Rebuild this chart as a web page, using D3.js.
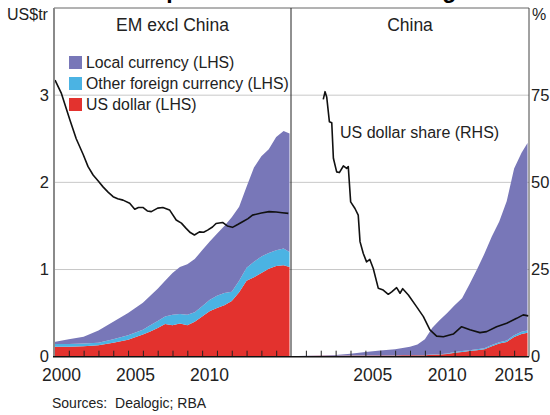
<!DOCTYPE html>
<html>
<head>
<meta charset=utf-8>
<title>Corporate Bonds Outstanding</title>
<style>
  body { margin: 0; background: #fff; }
  svg { display: block; font-family: "Liberation Sans", Arial, sans-serif; }
</style>
</head>
<body>
<script src="https://d3js.org/d3.v7.min.js"></script>
<script>
// EM excl China, US$tr
var emYears = [2000.0, 2001, 2002, 2003, 2004, 2005, 2006, 2006.5, 2007, 2007.5, 2008, 2008.5, 2009, 2009.5,
               2010, 2010.5, 2011, 2011.5, 2012, 2012.5, 2013, 2013.5, 2014, 2014.5, 2015, 2015.5, 2015.9];
var emUsd   = [0.115, 0.115, 0.12, 0.13, 0.16, 0.195, 0.255, 0.29, 0.33, 0.375, 0.36, 0.38, 0.36, 0.40,
               0.46, 0.52, 0.56, 0.59, 0.64, 0.74, 0.87, 0.91, 0.96, 1.01, 1.04, 1.05, 1.03];
var emOther = [0.03, 0.03, 0.03, 0.03, 0.04, 0.05, 0.055, 0.07, 0.08, 0.085, 0.12, 0.11, 0.12, 0.11,
               0.12, 0.13, 0.14, 0.14, 0.105, 0.13, 0.15, 0.18, 0.19, 0.18, 0.18, 0.19, 0.17];
var emLocal = [0.025, 0.055, 0.08, 0.14, 0.20, 0.255, 0.31, 0.34, 0.37, 0.41, 0.48, 0.54, 0.58, 0.61,
               0.64, 0.67, 0.71, 0.77, 0.855, 0.85, 0.93, 1.08, 1.15, 1.19, 1.30, 1.35, 1.36];

// EM excl China, US dollar share (%)
var emShareYears = [2000.07, 2000.5, 2001.08, 2001.5, 2001.97, 2002.3, 2002.64, 2003.0, 2003.31, 2003.65, 2003.99,
                    2004.3, 2004.66, 2005.11, 2005.45, 2005.7, 2006.0, 2006.3, 2006.57, 2007.0, 2007.35, 2007.8,
                    2008.25, 2008.6, 2008.92, 2009.2, 2009.48, 2009.82, 2010.1, 2010.37, 2010.7, 2010.94,
                    2011.38, 2011.7, 2012.05, 2012.4, 2012.73, 2013.1, 2013.4, 2014.0, 2014.52, 2015.0, 2015.4, 2015.82];
var emShare = [79.3, 75.5, 67.8, 62.5, 58.0, 54.5, 52.1, 50.3, 48.7, 47.2, 45.9,
               45.3, 44.9, 44.0, 42.3, 42.8, 42.8, 41.8, 41.6, 42.6, 42.8, 42.1,
               39.2, 38.3, 36.8, 35.6, 34.9, 35.8, 35.7, 36.3, 37.2, 38.2,
               38.5, 37.5, 37.1, 37.9, 38.7, 39.6, 40.6, 41.2, 41.6, 41.5, 41.3, 41.1];

// China, US$tr
var cnYears = [2000, 2001, 2002, 2003, 2004, 2005, 2006, 2007, 2007.5, 2008, 2008.5, 2009, 2009.5,
               2010, 2010.5, 2011, 2011.5, 2012, 2012.5, 2013, 2013.5, 2014, 2014.5, 2015, 2015.5, 2015.9];
var cnUsd   = [0.004, 0.007, 0.011, 0.011, 0.015, 0.015, 0.013, 0.015, 0.017, 0.016, 0.017, 0.017, 0.022,
               0.024, 0.03, 0.045, 0.055, 0.065, 0.075, 0.085, 0.12, 0.15, 0.17, 0.225, 0.26, 0.275];
var cnOther = [0.001, 0.001, 0.001, 0.001, 0.001, 0.001, 0.001, 0.001, 0.001, 0.001, 0.002, 0.003, 0.004,
               0.005, 0.006, 0.008, 0.009, 0.01, 0.011, 0.012, 0.013, 0.015, 0.017, 0.02, 0.025, 0.025];
var cnLocal = [0.001, 0.002, 0.003, 0.008, 0.019, 0.039, 0.056, 0.069, 0.082, 0.098, 0.122, 0.18, 0.305,
               0.391, 0.464, 0.537, 0.607, 0.755, 0.914, 1.083, 1.246, 1.385, 1.595, 1.915, 2.055, 2.15];

// China, US dollar share (%)
var cnShareYears = [2002.17, 2002.29, 2002.4, 2002.58, 2002.74, 2002.85, 2003.07, 2003.25, 2003.52, 2003.74, 2003.85,
                    2004.01, 2004.3, 2004.52, 2004.64, 2004.86, 2005.08, 2005.3, 2005.53, 2005.87, 2006.2, 2006.54,
                    2006.77, 2007.1, 2007.33, 2007.51, 2007.89, 2008.45, 2008.9, 2009.34, 2009.79, 2010.24,
                    2010.91, 2011.47, 2012.03, 2012.7, 2013.15, 2013.82, 2014.5, 2015.17, 2015.61, 2015.95];
var cnShare = [73.8, 76.0, 74.5, 67.4, 67.1, 56.9, 53.0, 52.8, 54.7, 54.0, 54.5,
               44.4, 42.5, 40.6, 33.0, 29.6, 27.2, 27.9, 25.3, 19.6, 19.1, 17.9,
               18.6, 19.8, 18.2, 19.5, 17.7, 14.3, 11.5, 7.7, 5.9, 5.7,
               6.5, 8.6, 7.7, 6.9, 7.2, 8.6, 9.6, 11.0, 12.0, 11.7];

// axis labels
var lhsTicks = [0, 1, 2, 3];
var rhsTicks = [0, 25, 50, 75];
var leftYearLabels = [2000, 2005, 2010];
var rightYearLabels = [2005, 2010, 2015];

var purple = "#7877b8";
var blue = "#4bb3e3";
var red = "#e3322e";

var svg = d3.select("body").append("svg")
    .attr("width", 550)
    .attr("height", 415);

// plot frame (plotTop: "top" is taken by window.top)
var plotTop = 8, plotBottom = 356.7, plotLeft = 54, plotMid = 291, plotRight = 529;

var y = d3.scaleLinear().domain([0, 4]).range([plotBottom, plotTop]);
var yPct = d3.scaleLinear().domain([0, 100]).range([plotBottom, plotTop]);
var xL = d3.scaleLinear().domain([2000, 2016]).range([plotLeft, plotMid]);
var xR = d3.scaleLinear().domain([2000, 2016]).range([plotMid, plotRight]);

// title (cut off at the top of the picture, only descenders show)
svg.append("text")
    .attr("x", (plotLeft + plotRight) / 2).attr("y", -2)
    .attr("text-anchor", "middle")
    .style("font-size", "23px").style("font-weight", "bold")
    .text("Corporate Bonds Outstanding");

// gridlines
svg.append("g").selectAll("line")
    .data(lhsTicks.filter(function (d) { return d > 0; }))
    .enter().append("line")
    .attr("x1", plotLeft).attr("x2", plotRight)
    .attr("y1", function (d) { return y(d); })
    .attr("y2", function (d) { return y(d); })
    .attr("stroke", "#c8c8c8").attr("stroke-width", 1);

// stacked areas for one panel
function drawPanel(x, years, usd, other, local, clipId, x0, x1) {
    svg.append("clipPath").attr("id", clipId)
        .append("rect").attr("x", x0).attr("y", plotTop).attr("width", x1 - x0).attr("height", plotBottom - plotTop);

    var rows = years.map(function (yr, i) {
        return { year: yr, usd: usd[i], other: other[i], local: local[i] };
    });
    var series = d3.stack().keys(["usd", "other", "local"])(rows);
    var colors = { usd: red, other: blue, local: purple };

    var area = d3.area()
        .x(function (d) { return x(d.data.year); })
        .y0(function (d) { return y(d[0]); })
        .y1(function (d) { return y(d[1]); });

    svg.append("g").attr("clip-path", "url(#" + clipId + ")")
        .selectAll("path").data(series).enter().append("path")
        .attr("fill", function (s) { return colors[s.key]; })
        .attr("d", area);
}

drawPanel(xL, emYears, emUsd, emOther, emLocal, "clipL", plotLeft, plotMid);
drawPanel(xR, cnYears, cnUsd, cnOther, cnLocal, "clipR", plotMid, plotRight);

// US dollar share lines
function drawShare(x, years, vals) {
    var pts = years.map(function (yr, i) { return [yr, vals[i]]; });
    svg.append("path")
        .datum(pts)
        .attr("fill", "none").attr("stroke", "#111").attr("stroke-width", 1.6)
        .attr("stroke-linejoin", "round")
        .attr("d", d3.line()
            .x(function (d) { return x(d[0]); })
            .y(function (d) { return yPct(d[1]); }));
}
drawShare(xL, emShareYears, emShare);
drawShare(xR, cnShareYears, cnShare);

// year ticks pointing up, inside each panel
var tickYears = d3.range(2001, 2016);
[xL, xR].forEach(function (x) {
    var ax = svg.append("g").attr("transform", "translate(0," + plotBottom + ")")
        .call(d3.axisBottom(x).tickValues(tickYears).tickSize(-6).tickFormat(""));
    ax.select(".domain").remove();
    ax.selectAll("line").attr("stroke", "#222");
});

// year labels, centred in the year
function yearLabels(x, yrs) {
    svg.append("g").selectAll("text").data(yrs).enter().append("text")
        .attr("x", function (d) { return Math.min(x(d + 0.5), 514); })
        .attr("y", 381)
        .attr("text-anchor", "middle")
        .style("font-size", "17.5px").attr("fill", "#222")
        .text(function (d) { return d; });
}
yearLabels(xL, leftYearLabels);
yearLabels(xR, rightYearLabels);

// y axes
var axL = svg.append("g").attr("transform", "translate(" + plotLeft + ",0)")
    .call(d3.axisLeft(y).tickValues(lhsTicks).tickFormat(d3.format("d")).tickSize(0).tickPadding(5));
var axR = svg.append("g").attr("transform", "translate(" + plotRight + ",0)")
    .call(d3.axisRight(yPct).tickValues(rhsTicks).tickFormat(d3.format("d")).tickSize(0).tickPadding(2));
[axL, axR].forEach(function (ax) {
    ax.select(".domain").remove();
    ax.selectAll("text").style("font-size", "16.5px").style("font-family", "'Liberation Sans', Arial, sans-serif")
        .attr("fill", "#222");
});

// frame
svg.append("line").attr("x1", plotLeft).attr("x2", plotRight).attr("y1", plotTop).attr("y2", plotTop)
    .attr("stroke", "#666").attr("stroke-width", 1);
svg.append("line").attr("x1", plotLeft).attr("x2", plotLeft).attr("y1", plotTop).attr("y2", plotBottom)
    .attr("stroke", "#8a8a8a").attr("stroke-width", 2);
svg.append("line").attr("x1", plotRight).attr("x2", plotRight).attr("y1", plotTop).attr("y2", plotBottom)
    .attr("stroke", "#444").attr("stroke-width", 1);
svg.append("line").attr("x1", plotMid).attr("x2", plotMid).attr("y1", plotTop).attr("y2", plotBottom)
    .attr("stroke", "#222").attr("stroke-width", 1);
svg.append("line").attr("x1", plotLeft - 1).attr("x2", plotRight).attr("y1", plotBottom).attr("y2", plotBottom)
    .attr("stroke", "#111").attr("stroke-width", 1.5);

// unit labels
svg.append("text").attr("x", 7).attr("y", 20).style("font-size", "16px").attr("fill", "#222").text("US$tr");
svg.append("text").attr("x", 532).attr("y", 20).style("font-size", "16px").attr("fill", "#222").text("%");

// panel titles
svg.append("text").attr("x", (plotLeft + plotMid) / 2).attr("y", 31).attr("text-anchor", "middle")
    .style("font-size", "17.5px").attr("fill", "#222").text("EM excl China");
svg.append("text").attr("x", (plotMid + plotRight) / 2).attr("y", 31).attr("text-anchor", "middle")
    .style("font-size", "17.5px").attr("fill", "#222").text("China");

// legend
var legendItems = [["Local currency (LHS)", purple], ["Other foreign currency (LHS)", blue], ["US dollar (LHS)", red]];
var lg = svg.append("g").selectAll("g").data(legendItems).enter().append("g")
    .attr("transform", function (d, i) { return "translate(69," + (56 + i * 21) + ")"; });
lg.append("rect").attr("width", 13).attr("height", 13).attr("fill", function (d) { return d[1]; });
lg.append("text").attr("x", 17).attr("y", 12).style("font-size", "15.8px").attr("fill", "#222")
    .text(function (d) { return d[0]; });

svg.append("text").attr("x", 340).attr("y", 138).style("font-size", "16px").attr("fill", "#222")
    .text("US dollar share (RHS)");

// source
svg.append("text").attr("x", 52).attr("y", 408).style("font-size", "14px").attr("fill", "#222")
    .attr("xml:space", "preserve")
    .text("Sources:  Dealogic; RBA");
</script>
</body>
</html>
